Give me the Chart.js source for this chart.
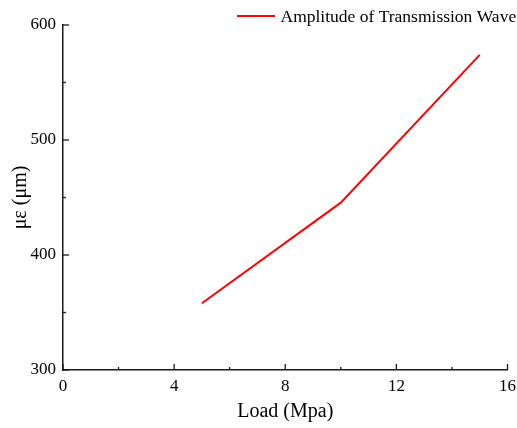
<!DOCTYPE html>
<html>
<head>
<meta charset="utf-8">
<script src="https://cdn.jsdelivr.net/npm/chart.js@4.4.1/dist/chart.umd.min.js"></script>
<style>
  html, body { margin: 0; padding: 0; background: #fff; }
  #wrap { width: 517px; height: 428px; }
</style>
</head>
<body>
<div id="wrap"><canvas id="myChart" width="517" height="428"></canvas></div>
<script>
// du lieu doc tu hinh
const loadValues = [5, 10, 15];
const strainValues = [358, 445.5, 574];
const seriesName = 'Amplitude of Transmission Wave';
const xTicksMajor = [0, 4, 8, 12, 16];
const yTicksMajor = [300, 400, 500, 600];

const serif = 'Liberation Serif';
const axisColor = '#1a1a1a';

// ve vach chia huong vao trong (major dai, minor ngan)
const innerTicks = {
  id: 'innerTicks',
  afterDraw(chart) {
    const ctx = chart.ctx;
    const xs = chart.scales.x, ys = chart.scales.y;
    ctx.save();
    ctx.strokeStyle = axisColor;
    ctx.lineWidth = 1.3;
    xs.ticks.forEach(t => {
      const px = xs.getPixelForValue(t.value);
      const len = xTicksMajor.includes(t.value) ? 6 : 3;
      ctx.beginPath();
      ctx.moveTo(px, ys.bottom);
      ctx.lineTo(px, ys.bottom - len);
      ctx.stroke();
    });
    ys.ticks.forEach(t => {
      const py = ys.getPixelForValue(t.value);
      const len = yTicksMajor.includes(t.value) ? 6 : 3;
      ctx.beginPath();
      ctx.moveTo(xs.left, py);
      ctx.lineTo(xs.left + len, py);
      ctx.stroke();
    });
    ctx.restore();
  }
};

// chu thich o goc tren ben phai
const lineLegend = {
  id: 'lineLegend',
  afterDraw(chart) {
    const ctx = chart.ctx;
    const ds = chart.data.datasets[0];
    ctx.save();
    ctx.strokeStyle = ds.borderColor;
    ctx.lineWidth = 2;
    ctx.beginPath();
    ctx.moveTo(237, 16);
    ctx.lineTo(275, 16);
    ctx.stroke();
    ctx.fillStyle = '#000';
    ctx.font = '17.5px "' + serif + '"';
    ctx.textBaseline = 'alphabetic';
    ctx.textAlign = 'left';
    ctx.fillText(ds.label, 280.5, 22);
    ctx.restore();
  }
};

const ctx = document.getElementById('myChart');
new Chart(ctx, {
  type: 'line',
  data: {
    datasets: [{
      label: seriesName,
      data: loadValues.map((x, i) => ({ x: x, y: strainValues[i] })),
      borderColor: '#ff0000',
      backgroundColor: '#ff0000',
      borderWidth: 2,
      pointRadius: 0,
      tension: 0,
      fill: false
    }]
  },
  options: {
    responsive: false,
    animation: false,
    devicePixelRatio: 1,
    layout: { padding: { top: 25, right: 9.5, left: 0, bottom: 0 } },
    plugins: {
      legend: { display: false },
      tooltip: { enabled: false }
    },
    scales: {
      x: {
        type: 'linear',
        min: 0,
        max: 16,
        afterFit: s => { s.height = 58; s.paddingLeft = 0; s.paddingRight = 0; },
        grid: { display: false, drawTicks: false },
        border: { display: true, color: axisColor, width: 1.5 },
        ticks: {
          stepSize: 2,
          padding: 6,
          color: '#000',
          font: { family: serif, size: 17 },
          maxRotation: 0,
          autoSkip: false,
          callback: v => xTicksMajor.includes(v) ? String(v) : ''
        },
        title: {
          display: true,
          text: 'Load (Mpa)',
          color: '#000',
          font: { family: serif, size: 20 },
          padding: { top: 0, bottom: 4 }
        }
      },
      y: {
        type: 'linear',
        min: 300,
        max: 600,
        afterFit: s => { s.width = 63; s.paddingTop = 0; s.paddingBottom = 0; },
        grid: { display: false, drawTicks: false },
        border: { display: true, color: axisColor, width: 1.5 },
        ticks: {
          stepSize: 50,
          padding: 7,
          color: '#000',
          font: { family: serif, size: 17 },
          autoSkip: false,
          callback: v => yTicksMajor.includes(v) ? String(v) : ''
        },
        title: {
          display: true,
          text: 'με (μm)',
          color: '#000',
          font: { family: serif, size: 20 },
          padding: { top: 8.5, bottom: 0 }
        }
      }
    }
  },
  plugins: [innerTicks, lineLegend]
});
</script>
</body>
</html>
